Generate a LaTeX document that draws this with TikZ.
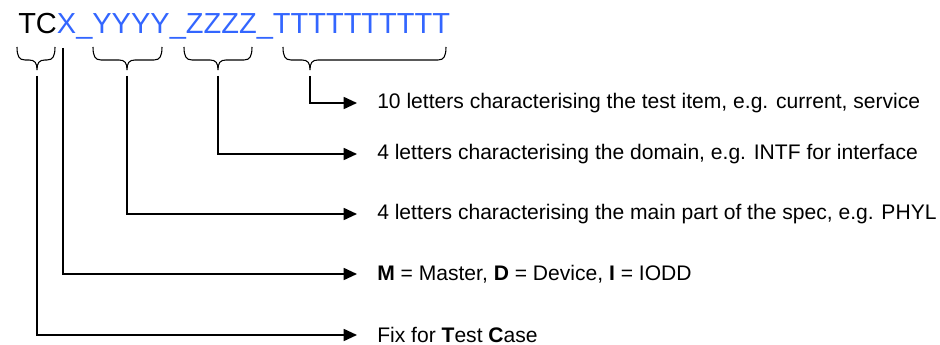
\documentclass[tikz,border=0pt]{standalone}
\usepackage{fontspec}
\setmainfont{Liberation Sans}
\usetikzlibrary{arrows.meta}
\definecolor{idblue}{HTML}{3366FF}
% curly brace under one part of the name: left end, tip, right end, tip coordinate
\newcommand{\idbrace}[4]{%
  \draw[brc] (#1,47) .. controls (#1,56) and (#1+2,60) .. (#1+8,60) -- (#2-8,60)
    .. controls (#2-2,60) and (#2,63) .. (#2,70)
    .. controls (#2,63) and (#2+2,60) .. (#2+8,60) -- (#3-8,60)
    .. controls (#3-2,60) and (#3,56) .. (#3,47);
  \coordinate (#4) at (#2,76);
}
\begin{document}
\begin{tikzpicture}[
  x=0.75pt, y=-0.75pt,
  title/.style={anchor=base west, inner sep=0pt, font=\fontsize{21.75}{26}\selectfont},
  lab/.style={anchor=west, inner xsep=15pt, inner ysep=0pt, font=\fontsize{15.8}{19}\selectfont},
  brc/.style={line width=0.8pt, black},
  arr/.style={-{Triangle[length=10pt, width=9pt]}, line width=1.3pt, black},
]
\useasboundingbox (0,0) rectangle (940,345);
% ---------------- the test case name
\node[title] (name) at (18,34) {TC\textcolor{idblue}{X\_YYYY\_ZZZZ\_TTTTTTTTTT}};
\idbrace{17}{37}{55}{bTC}
\idbrace{93}{127}{162}{bY}
\idbrace{184}{218}{252}{bZ}
\idbrace{283}{310}{446}{bT}
\coordinate (bX) at (63,48);
% ---------------- explanations
\node[lab] (lT) at (357,103) {10 letters characterising the test item, e.g. current, service};
\node[lab] (lZ) at (357,154) {4 letters characterising the domain, e.g. INTF for interface};
\node[lab] (lY) at (357,214) {4 letters characterising the main part of the spec, e.g. PHYL};
\node[lab] (lX) at (357,274) {\textbf{M} = Master, \textbf{D} = Device, \textbf{I} = IODD};
\node[lab] (lTC) at (357,335) {Fix for \textbf{T}est \textbf{C}ase};
% ---------------- connectors
\draw[arr] (bT) |- (lT.west);
\draw[arr] (bZ) |- (lZ.west);
\draw[arr] (bY) |- (lY.west);
\draw[arr] (bX) |- (lX.west);
\draw[arr] (bTC) |- (lTC.west);
\end{tikzpicture}
\end{document}
